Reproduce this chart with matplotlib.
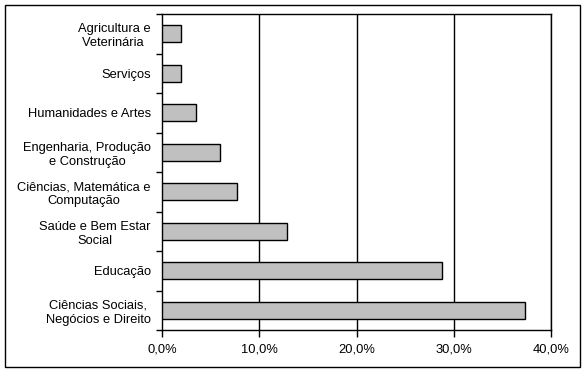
import numpy as np
import matplotlib
matplotlib.use('Agg')
import matplotlib.pyplot as plt
from matplotlib.patches import Rectangle

# Dados (de cima para baixo)
categorias = ["Agricultura e\nVeterinária ", "Serviços", "Humanidades e Artes",
              "Engenharia, Produção\ne Construção", "Ciências, Matemática e\nComputação",
              "Saúde e Bem Estar\nSocial", "Educação", "Ciências Sociais,\nNegócios e Direito"]
valores = [2.0, 2.0, 3.5, 6.0, 7.7, 12.8, 28.8, 37.3]
xticks = [0, 10, 20, 30, 40]
xtick_labels = ["0,0%", "10,0%", "20,0%", "30,0%", "40,0%"]

plt.rcParams['font.family'] = ['Liberation Sans', 'DejaVu Sans']

fig = plt.figure(figsize=(5.85, 3.72), dpi=100)
ax = fig.add_axes([162 / 585, 1 - 330 / 372, (551.3 - 162) / 585, (330 - 14) / 372])

y = np.arange(len(categorias))
ax.barh(y, valores, height=0.42, color='#c0c0c0', edgecolor='black', linewidth=1, zorder=3)
ax.set_ylim(len(categorias) - 0.5, -0.5)
ax.set_xlim(0, 40)

for xv in xticks[1:]:
    ax.axvline(xv, color='black', linewidth=1, zorder=1)

ax.set_xticks(xticks)
ax.set_xticklabels(xtick_labels, fontsize=9.3)
ax.set_yticks(y)
ax.set_yticklabels(categorias, fontsize=9.3, multialignment='center', linespacing=1.2)
ax.tick_params(axis='y', length=0, pad=8)
ax.set_yticks(np.arange(-0.5, len(categorias) + 0.5, 1), minor=True)
ax.tick_params(axis='y', which='minor', length=4, width=1, direction='out')
ax.tick_params(axis='x', length=5, width=1, direction='out', pad=5)

for s in ax.spines.values():
    s.set_linewidth(1)
    s.set_color('black')

fig.patches.append(Rectangle((5 / 585, 1 - 367 / 372), 575 / 585, 362 / 372,
                             transform=fig.transFigure, fill=False,
                             edgecolor='black', linewidth=1))

fig.savefig('out.png', dpi=100)
